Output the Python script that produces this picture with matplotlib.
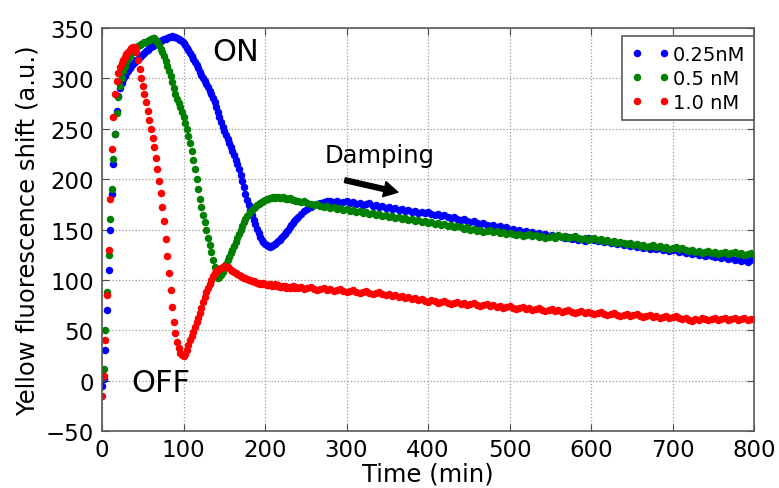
import matplotlib
matplotlib.use("Agg")
import matplotlib.pyplot as plt
import numpy as np

# readings every 2 min during the switching phase, every 4 min afterwards
time_min = np.concatenate([np.arange(0, 240, 2), np.arange(240, 801, 4)])

conc_labels = ["0.25nM", "0.5 nM", "1.0 nM"]

shift_025 = [
    # 0 - 238 min
    -5, 2, 30, 70, 110, 150, 185, 215, 245, 268,
    283, 290, 295, 299, 302, 305, 307, 310, 312, 314,
    316, 318, 319, 321, 322, 324, 325, 327, 328, 330,
    331, 332, 333, 334, 335, 336, 337, 338, 339, 339,
    340, 341, 341, 342, 341, 341, 340, 339, 338, 337,
    335, 333, 330, 328, 325, 322, 319, 316, 313, 310,
    306, 303, 300, 297, 294, 291, 288, 285, 281, 277,
    272, 267, 262, 257, 252, 248, 244, 240, 236, 232,
    228, 224, 219, 215, 210, 204, 198, 192, 185, 179,
    174, 169, 164, 159, 155, 151, 147, 143, 140, 138,
    136, 135, 134, 133, 134, 135, 136, 137, 139, 140,
    142, 144, 146, 148, 150, 152, 154, 156, 158, 160,
    # 240 - 800 min
    162, 165, 168, 170, 172, 174, 175, 176, 177, 178,
    178, 177, 178, 176, 177, 178, 176, 177, 175, 176,
    174, 175, 176, 173, 174, 172, 173, 171, 172, 170,
    171, 169, 170, 168, 169, 167, 168, 166, 167, 166,
    167, 165, 164, 165, 163, 164, 162, 161, 162, 160,
    159, 160, 158, 157, 158, 156, 155, 156, 154, 153,
    154, 152, 153, 151, 152, 150, 151, 149, 150, 148,
    149, 147, 148, 146, 147, 145, 146, 144, 145, 143,
    144, 143, 142, 143, 141, 142, 140, 141, 139, 142,
    141, 140, 139, 140, 138, 139, 137, 138, 136, 137,
    135, 136, 134, 135, 133, 134, 132, 133, 131, 132,
    131, 132, 130, 131, 129, 130, 131, 128, 129, 127,
    128, 126, 127, 125, 126, 124, 125, 124, 123, 124,
    122, 123, 121, 122, 120, 121, 119, 120, 118, 121,
    120,
]

shift_05 = [
    # 0 - 238 min
    3, 12, 50, 88, 125, 160, 190, 220, 245, 266,
    282, 292, 300, 307, 312, 316, 319, 322, 325, 328,
    330, 331, 332, 333, 334, 335, 336, 336, 337, 338,
    339, 340, 340, 338, 336, 333, 329, 326, 322, 317,
    312, 307, 302, 296, 290, 285, 280, 276, 272, 267,
    262, 256, 250, 243, 236, 228, 219, 210, 200, 190,
    180, 172, 164, 157, 150, 142, 135, 128, 120, 113,
    106, 102, 103, 105, 108, 112, 116, 120, 123, 127,
    130, 134, 138, 142, 146, 150, 153, 157, 160, 163,
    165, 167, 169, 171, 172, 174, 175, 176, 177, 178,
    179, 180, 180, 181, 181, 182, 181, 182, 182, 181,
    181, 182, 181, 180, 180, 181, 180, 179, 179, 178,
    # 240 - 800 min
    178, 177, 178, 176, 175, 174, 175, 173, 172, 173,
    171, 172, 170, 171, 169, 170, 168, 169, 167, 168,
    166, 167, 165, 166, 164, 165, 163, 164, 162, 163,
    161, 162, 160, 161, 159, 160, 158, 159, 157, 158,
    156, 157, 155, 156, 154, 155, 153, 154, 152, 153,
    152, 151, 152, 150, 151, 149, 150, 148, 149, 150,
    148, 149, 147, 148, 146, 147, 146, 145, 146, 144,
    145, 146, 144, 145, 143, 144, 142, 143, 144, 142,
    145, 143, 144, 142, 143, 144, 142, 141, 142, 140,
    141, 142, 140, 141, 139, 140, 138, 139, 137, 138,
    137, 136, 137, 135, 136, 134, 135, 133, 134, 135,
    133, 134, 132, 133, 131, 132, 133, 131, 132, 130,
    129, 130, 128, 129, 127, 128, 129, 127, 128, 126,
    127, 128, 126, 127, 128, 126, 127, 125, 126, 127,
    126,
]

shift_10 = [
    # 0 - 238 min
    -15, 5, 40, 85, 130, 180, 230, 262, 285, 297,
    305, 311, 315, 318, 321, 324, 326, 328, 330, 331,
    331, 326, 318, 309, 300, 292, 285, 277, 268, 259,
    250, 241, 232, 221, 210, 198, 186, 172, 158, 141,
    124, 107, 90, 73, 58, 47, 38, 32, 27, 25,
    24, 26, 30, 35, 40, 44, 48, 53, 58, 62,
    67, 72, 78, 83, 88, 92, 96, 100, 104, 107,
    109, 110, 111, 112, 113, 114, 113, 113, 112, 110,
    109, 108, 107, 106, 105, 104, 103, 102, 102, 101,
    100, 100, 99, 99, 98, 97, 97, 96, 96, 97,
    96, 95, 95, 96, 94, 95, 96, 94, 95, 93,
    93, 94, 94, 92, 93, 92, 93, 94, 92, 93,
    # 240 - 800 min
    92, 93, 91, 92, 93, 91, 90, 91, 92, 90,
    91, 89, 90, 91, 89, 88, 89, 90, 88, 87,
    88, 89, 87, 86, 87, 88, 86, 85, 86, 84,
    85, 83, 84, 82, 83, 81, 82, 80, 81, 79,
    78, 80, 79, 77, 78, 79, 77, 76, 77, 78,
    76, 77, 75, 76, 77, 75, 74, 75, 76, 74,
    75, 73, 74, 72, 73, 74, 72, 71, 72, 73,
    71, 72, 70, 71, 72, 70, 69, 70, 71, 69,
    70, 68, 69, 70, 68, 67, 68, 69, 67, 68,
    67, 66, 67, 68, 66, 65, 66, 67, 65, 64,
    65, 66, 64, 65, 66, 64, 63, 64, 65, 63,
    64, 62, 63, 64, 62, 63, 64, 62, 61, 62,
    60, 59, 61, 60, 62, 61, 60, 61, 62, 60,
    61, 62, 60, 61, 62, 60, 61, 62, 60, 61,
    61,
]

series = [shift_025, shift_05, shift_10]
colors = ["b", "g", "r"]

fig = plt.figure(figsize=(7.79, 4.89), dpi=100)
ax = fig.add_axes([0.131, 0.1166, 0.837, 0.824])

for values, color, label in zip(series, colors, conc_labels):
    ax.plot(time_min, values, "o", color=color, ms=5.4, mew=0, label=label)

ax.set_xlim(0, 800)
ax.set_ylim(-50, 350)
ax.set_xticks(np.arange(0, 801, 100))
ax.set_yticks(np.arange(-50, 351, 50))
ax.grid(True, linestyle=":", color="0.6", linewidth=0.9)
ax.tick_params(direction="in", length=5, top=True, right=True,
               labelsize=16.5, color="0.3")
ax.tick_params(axis="x", pad=5)
ax.tick_params(axis="y", pad=6)
for spine in ax.spines.values():
    spine.set_color("0.35")
    spine.set_linewidth(1.2)

ax.set_xlabel("Time (min)", fontsize=17.5, labelpad=0.5)
ax.set_ylabel("Yellow fluorescence shift (a.u.)", fontsize=17.5, labelpad=4)

# state labels and the damping arrow
ax.text(135, 318, "ON", fontsize=22, ha="left", va="baseline")
ax.text(36, -10, "OFF", fontsize=22, ha="left", va="baseline")
ax.text(273, 217, "Damping", fontsize=17.5, ha="left", va="baseline")
ax.annotate("", xy=(363, 187), xytext=(298, 199),
            arrowprops=dict(facecolor="black", edgecolor="black",
                            width=3.5, headwidth=11, headlength=10, shrink=0))

leg = ax.legend(loc="upper right", bbox_to_anchor=(1.0, 0.98), borderaxespad=0,
                numpoints=2, fontsize=14, fancybox=False, handlelength=2.0,
                handletextpad=0.15, labelspacing=0.25, borderpad=0.45,
                framealpha=1)
leg.get_frame().set_edgecolor("0.35")
leg.get_frame().set_linewidth(1.2)

fig.savefig("out.png", dpi=100)
